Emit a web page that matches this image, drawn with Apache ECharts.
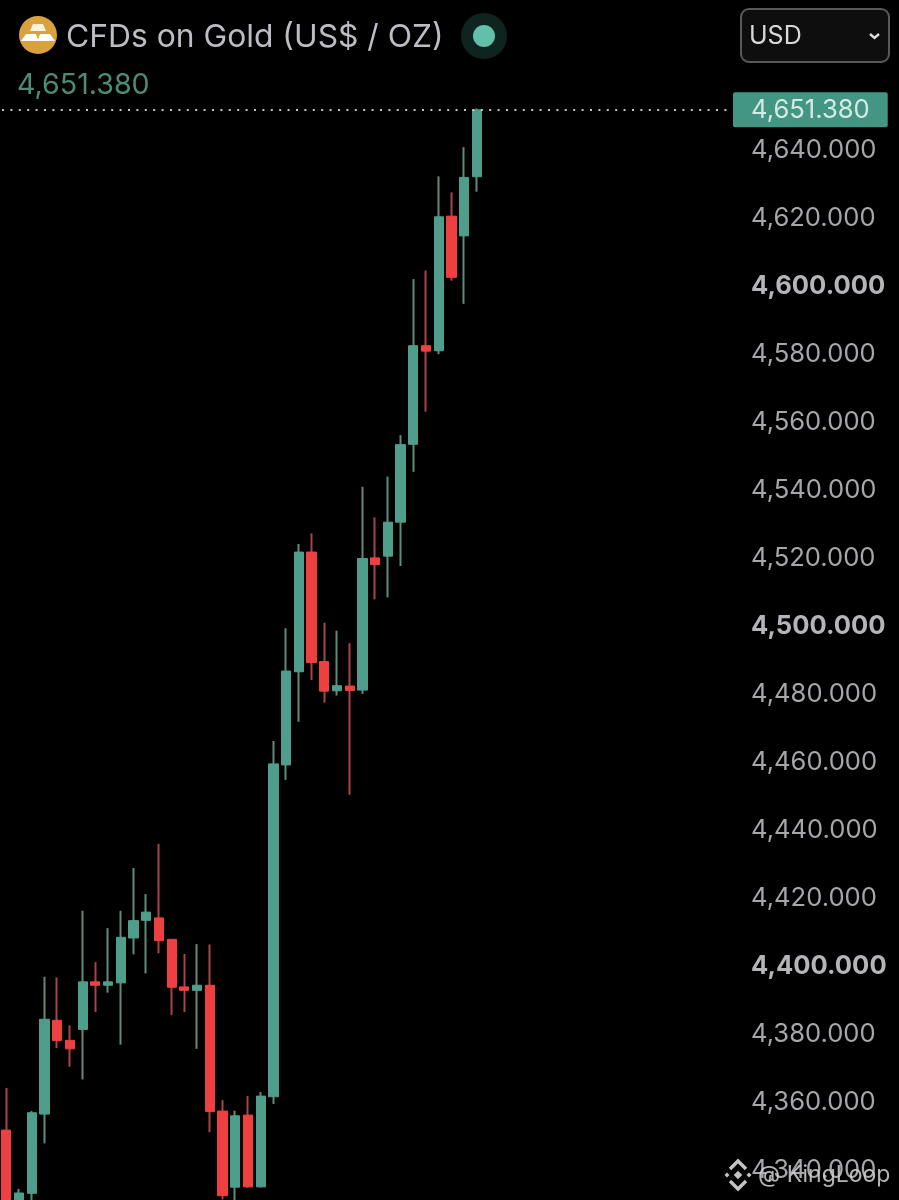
<!DOCTYPE html>
<html><head><meta charset="utf-8">
<style>html,body{margin:0;padding:0;background:#000}#c{width:899px;height:1200px}</style>
<script src="https://cdn.jsdelivr.net/npm/echarts@6/dist/echarts.min.js"></script>
</head><body><div id="c"></div>
<script>
const opens  = [4351.3,4321.0,4332.7,4356.0,4383.6,4377.7,4380.9,4394.9,4393.9,4394.6,4407.8,4413.0,4413.7,4407.4,4393.4,4392.4,4393.9,4356.9,4334.5,4355.7,4334.6,4361.1,4458.7,4486.1,4521.3,4489.1,4480.5,4481.9,4480.7,4519.6,4520.1,4530.1,4553.0,4582.0,4580.5,4620.1,4614.3,4631.7];
const closes = [4328.0,4332.8,4356.4,4383.9,4377.6,4375.2,4394.9,4393.9,4394.9,4408.0,4412.9,4415.4,4407.0,4393.3,4392.4,4393.9,4356.8,4332.0,4355.5,4334.6,4361.3,4459.0,4486.3,4521.3,4488.8,4480.4,4482.0,4480.6,4519.4,4517.6,4530.1,4552.9,4582.0,4580.4,4619.9,4602.1,4631.5,4651.38];
const lows   = [4322.0,4320.5,4329.9,4347.4,4375.4,4369.9,4366.2,4386.0,4391.7,4376.4,4403.0,4397.4,4403.3,4385.1,4386.0,4375.2,4350.7,4330.9,4325.0,4334.3,4334.4,4359.0,4454.3,4471.4,4483.7,4477.0,4479.1,4449.9,4479.6,4507.4,4508.0,4517.2,4544.9,4562.6,4579.5,4601.1,4594.3,4627.3];
const highs  = [4363.7,4334.0,4356.9,4396.4,4396.2,4382.1,4415.8,4400.7,4410.7,4415.8,4428.4,4420.7,4435.5,4407.5,4403.1,4406.0,4405.9,4360.1,4357.0,4361.3,4362.5,4465.7,4498.9,4523.7,4526.8,4500.5,4498.2,4494.5,4540.5,4531.5,4543.5,4555.7,4601.6,4604.1,4631.8,4627.1,4640.4,4651.8];
const lastPrice = 4651.38;
const boldTicks = [4400,4500,4600];
const titleText = 'CFDs on Gold (US$ / OZ)';
const slots = Array.from({length:59},(_,i)=>String(i));

const GREEN='#4f9e8b',RED='#ee4040',WGREEN='#5f8c7d',WRED='#a8444a';
const fmt=v=>v.toLocaleString('en-US',{minimumFractionDigits:3,maximumFractionDigits:3});
const font='Inter';

const chart=echarts.init(document.getElementById('c'),null,{renderer:'canvas'});
const wick=opens.map((o,i)=>[i+1,o,closes[i],lows[i],highs[i]]);
const body=opens.map((o,i)=>[i+1,o,closes[i],Math.min(o,closes[i]),Math.max(o,closes[i])]);
const T=(x,y,text,size,fill,extra)=>({type:'text',x,y,z:20,style:Object.assign({text,fontFamily:font,fontSize:size,fill,textVerticalAlign:'middle'},extra||{})});
const enc={x:0,y:[1,2,3,4]};
chart.setOption({
  animation:false,backgroundColor:'#000',
  grid:{left:-6.42,right:167.7,top:80.5,bottom:-36.5,containLabel:false,outerBoundsMode:'none'},
  xAxis:{type:'category',boundaryGap:false,data:slots,axisLine:{show:false},axisTick:{show:false},axisLabel:{show:false},splitLine:{show:false}},
  yAxis:{type:'value',position:'right',min:4320,max:4660,interval:20,
    axisLine:{show:false},axisTick:{show:false},splitLine:{show:false},
    axisLabel:{margin:19.7,align:'left',showMaxLabel:false,
      formatter:v=>boldTicks.includes(v)?'{b|'+fmt(v)+'}':'{n|'+fmt(v)+'}',
      rich:{n:{fontFamily:font,fontSize:25.6,color:'#a6a6ab',padding:[4,0,0,0]},b:{fontFamily:font,fontSize:25.6,fontWeight:'bold',color:'#b4b4b9',padding:[4,0,0,0]}}}},
  series:[
    {type:'candlestick',name:'wick',data:wick,encode:enc,barWidth:1,z:2,
      itemStyle:{color:WGREEN,color0:WRED,borderColor:WGREEN,borderColor0:WRED,borderWidth:2},
      markLine:{silent:true,symbol:'none',precision:3,
        lineStyle:{type:[2,6.4],color:'#cfe0d8',width:2,opacity:.9},
        label:{position:'end',distance:1.7,formatter:()=>fmt(lastPrice),fontFamily:font,fontSize:25.6,color:'#e4f4ef',
          backgroundColor:'#4aa691',borderRadius:2,padding:[5,18,4,18]},
        data:[{yAxis:lastPrice}]}},
    {type:'candlestick',name:'body',data:body,encode:enc,barWidth:9.7,z:3,
      itemStyle:{color:GREEN,color0:RED,borderColor:GREEN,borderColor0:RED,borderWidth:1}}
  ],
  graphic:[
    {type:'circle',shape:{cx:38,cy:35,r:19},z:20,style:{fill:'#d9a23f'}},
    {type:'polygon',shape:{points:[[33,24],[43,24],[46,31],[30,31]]},z:21,style:{fill:'#fbf3dc'}},
    {type:'polygon',shape:{points:[[26,34],[36,34],[38.5,41],[21,41]]},z:21,style:{fill:'#fff'}},
    {type:'polygon',shape:{points:[[40,34],[50,34],[55,41],[37.5,41]]},z:21,style:{fill:'#fff'}},
    T(66,37,titleText,31.8,'#bcbcc4'),
    T(17,85,fmt(lastPrice),28.6,'#4e8a78'),
    {type:'circle',shape:{cx:484,cy:36,r:23},z:20,style:{fill:'#10241f'}},
    {type:'circle',shape:{cx:484,cy:36,r:11},z:21,style:{fill:'#62bfa9'}},
    {type:'rect',shape:{x:741,y:9,width:148,height:53,r:8},z:20,style:{fill:'#0e0e0e',stroke:'#595959',lineWidth:2}},
    T(749,36,'USD',25,'#d8d8d8'),
    {type:'polyline',shape:{points:[[870,34],[874.5,38],[879,34]]},z:21,style:{stroke:'#dcdcdc',lineWidth:2.4,fill:null}},
    {type:'group',x:738,y:1175,z:30,children:[
      {type:'rect',rotation:Math.PI/4,shape:{x:-3,y:-3,width:6,height:6},style:{fill:'#c4c4c4'},z:30},
      {type:'polyline',shape:{points:[[-8,-6],[0,-14],[8,-6]]},style:{stroke:'#c4c4c4',lineWidth:3.4,fill:null},z:30},
      {type:'polyline',shape:{points:[[-8,6],[0,14],[8,6]]},style:{stroke:'#c4c4c4',lineWidth:3.4,fill:null},z:30},
      {type:'rect',rotation:Math.PI/4,x:-11,shape:{x:-1.8,y:-1.8,width:3.6,height:3.6},style:{fill:'#c4c4c4'},z:30},
      {type:'rect',rotation:Math.PI/4,x:11,shape:{x:-1.8,y:-1.8,width:3.6,height:3.6},style:{fill:'#c4c4c4'},z:30}
    ]},
    T(758,1175,'@ KingLoop',23,'rgba(205,205,205,.88)')
  ]
});
</script></body></html>
